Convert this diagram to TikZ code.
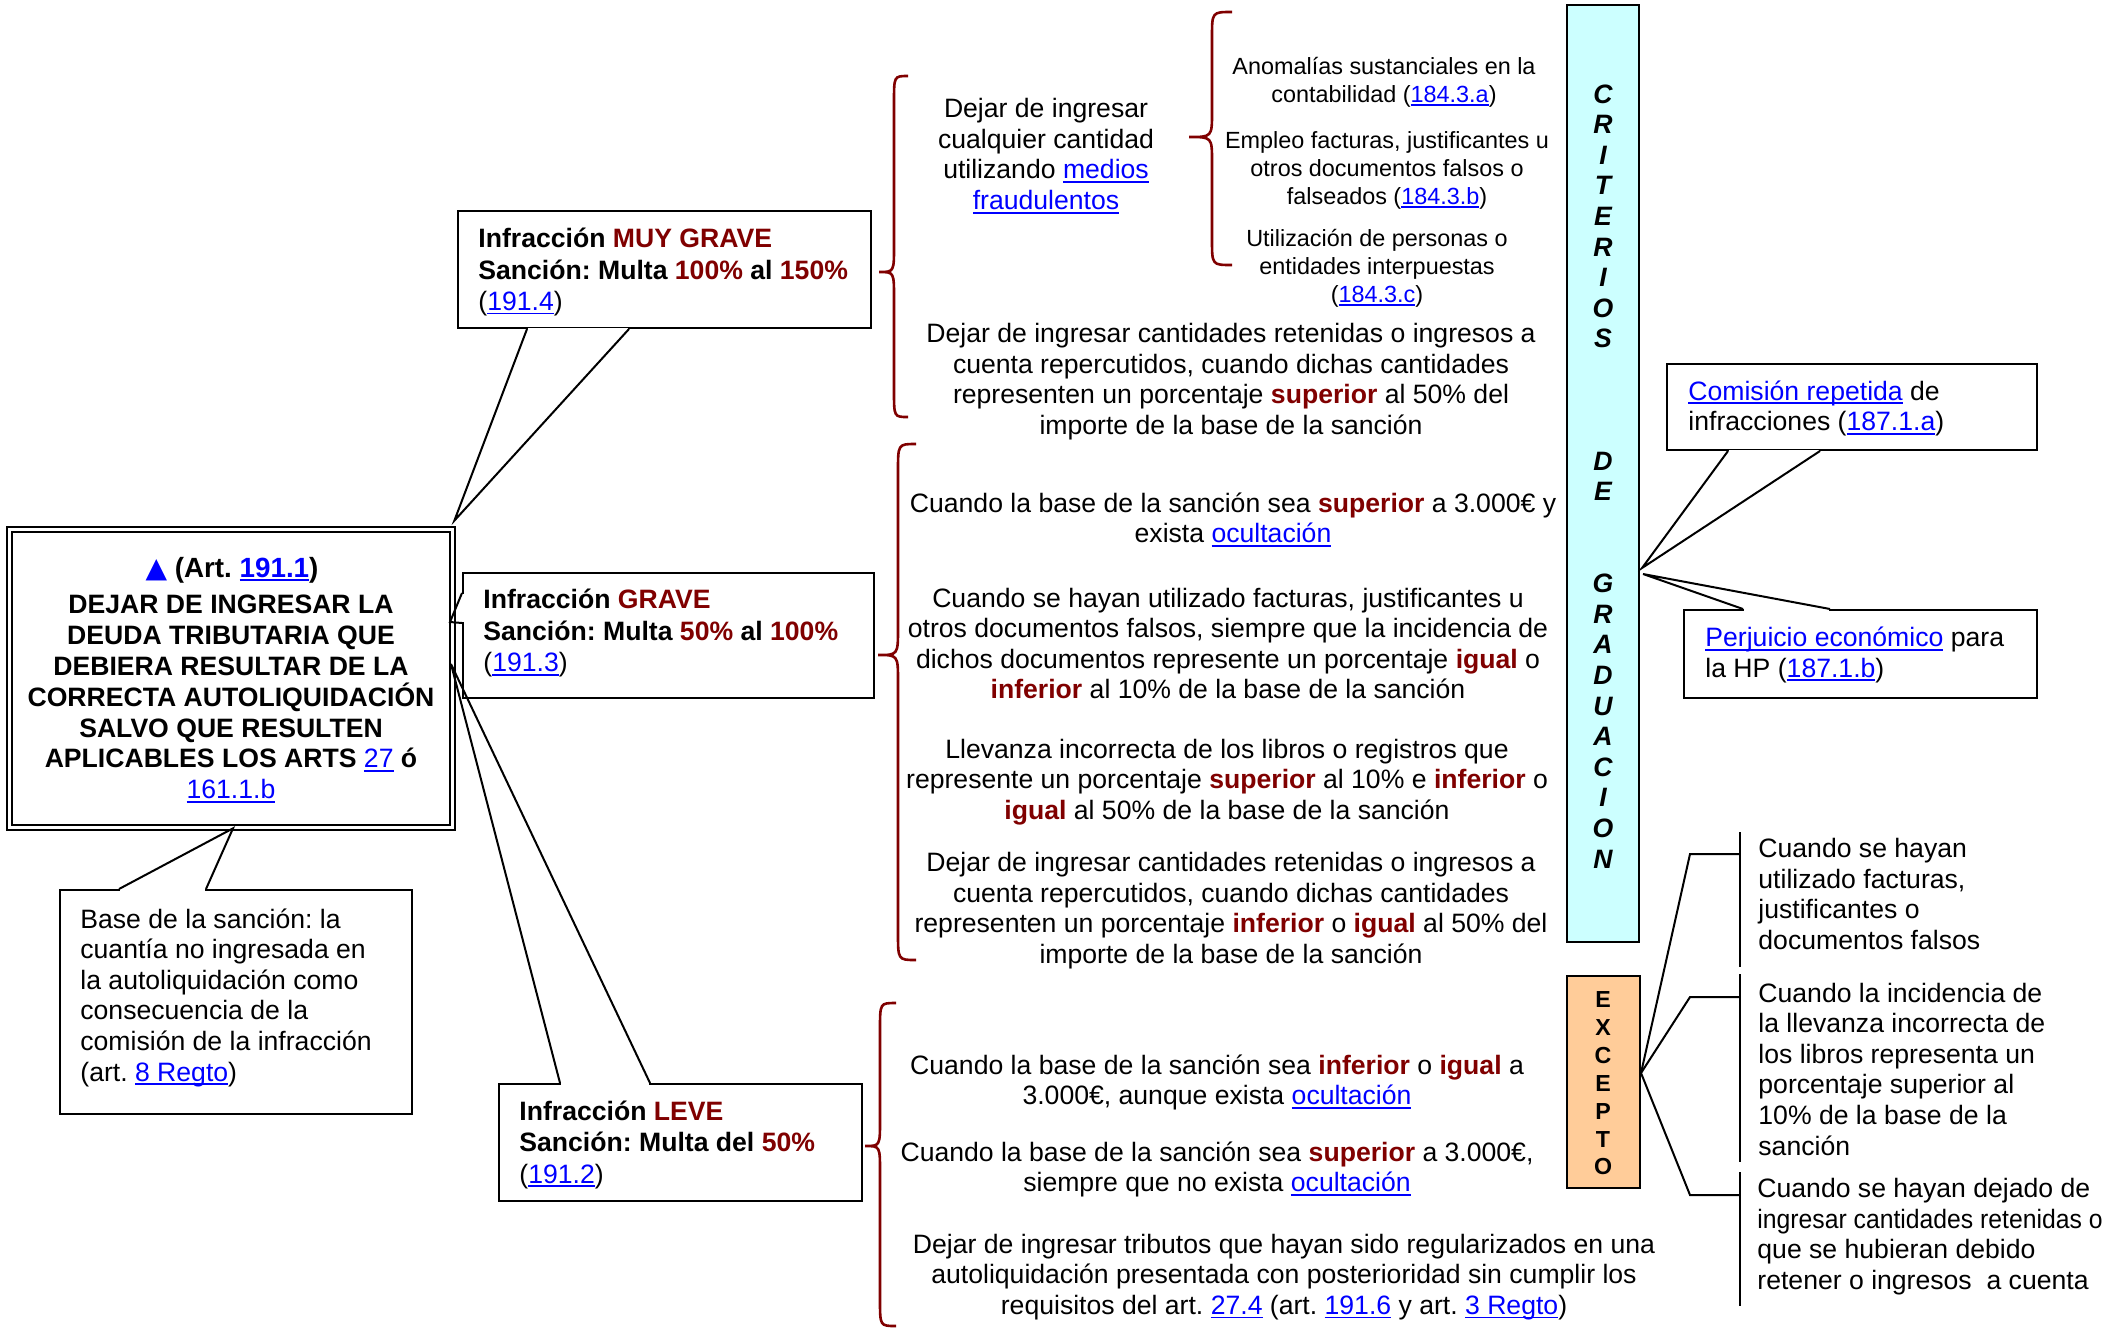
\documentclass[tikz,border=0pt]{standalone}
\usepackage{fontspec}
\setmainfont{Liberation Sans}
\newfontfamily\symfont{DejaVu Sans}
\usetikzlibrary{calc}
\definecolor{dred}{HTML}{800000}
\definecolor{lnkblue}{HTML}{0000FF}
\definecolor{critfill}{HTML}{CCFFFF}
\definecolor{excfill}{HTML}{FFCC99}
\frenchspacing
% blue underlined reference
\newcommand\lnk[1]{{\color{lnkblue}\setbox0\hbox{#1}\rlap{\rule[-0.15em]{\wd0}{0.07em}}\box0}}
\newcommand\hi[1]{{\bfseries\color{dred}#1}}
% curly brace opening to the left: end x, spine x, tip x, top y, tip y, bottom y, curl
\newcommand\brc[7]{%
  \draw[bracestyle] (#1,#4) .. controls (#2,#4) .. (#2,#4+#7) -- (#2,#5-#7)
    .. controls (#2,#5) .. (#3,#5) .. controls (#2,#5) .. (#2,#5+#7)
    -- (#2,#6-#7) .. controls (#2,#6) .. (#1,#6);}
\begin{document}
\begin{tikzpicture}[x=0.5pt,y=-0.5pt,
  every node/.style={inner sep=0pt},
  box/.style={draw, line width=1pt},
  tail/.style={line width=1pt, line join=miter},
  conn/.style={line width=1pt},
  bracestyle/.style={draw=dred, line width=1.3pt},
  regc/.style={font=\fontsize{13.3}{15.3}\selectfont, align=center, yshift=-1.5pt},
  regl/.style={font=\fontsize{13.3}{15.3}\selectfont, align=left, anchor=west, yshift=-1.5pt},
  bldl/.style={font=\fontsize{13.3}{15.75}\selectfont\bfseries, align=left, anchor=west, yshift=-1.5pt},
  smallc/.style={font=\fontsize{11.7}{14}\selectfont, align=center, yshift=-1.5pt},
  critletter/.style={font=\fontsize{13.3}{13.3}\selectfont\bfseries\itshape},
  excletter/.style={font=\fontsize{11.6}{11.6}\selectfont\bfseries}]
\useasboundingbox[fill=white] (0,0) rectangle (2107,1328);

% ---------- central statement ----------
\node[draw, line width=1.35pt, minimum width=224pt, minimum height=151.5pt] (main) at (231,678.5) {};
\draw[line width=1pt] ($(main.north west)+(6,6)$) rectangle ($(main.south east)+(-6,-6)$);
\node[font=\fontsize{13.9}{16}\selectfont\bfseries] (mainhead) at (232,570)
  {{\symfont\fontsize{14}{14}\selectfont\color{lnkblue}▲}\ (Art.\ \lnk{191.1})};
\node[font=\fontsize{13.3}{15.4}\selectfont\bfseries, align=center] (maintext) at (231,699)
  {DEJAR DE INGRESAR LA\\DEUDA TRIBUTARIA QUE\\DEBIERA RESULTAR DE LA\\CORRECTA AUTOLIQUIDACIÓN\\SALVO QUE RESULTEN\\APLICABLES LOS ARTS {\mdseries\lnk{27}} ó\\{\mdseries\lnk{161.1.b}}};

% ---------- base de la sancion ----------
\node[box, anchor=north west, minimum width=176pt, minimum height=112pt] (base) at (59,889) {};
\node[regl] (baset) at (80,994.5)
  {Base de la sanción: la\\cuantía no ingresada en\\la autoliquidación como\\consecuencia de la\\comisión de la infracción\\(art. \lnk{8 Regto})};
\coordinate (basetip) at ($(main.south)+(2,-3)$);
\fill[white] ($(base.north west)+(61,-1.5)$) rectangle ($(base.north west)+(146,1.5)$);
\draw[tail] ($(base.north west)+(60,0)$) -- (basetip) -- ($(base.north west)+(147,0)$);

% ---------- muy grave ----------
\node[box, anchor=north west, minimum width=206.5pt, minimum height=58.5pt] (muy) at (457,210) {};
\node[bldl] (muyt) at (478,269)
  {Infracción \hi{MUY GRAVE}\\Sanción: Multa \hi{100\%} al \hi{150\%}\\{\mdseries(\lnk{191.4})}};
\coordinate (muytip) at ($(main.north east)+(-2,-5)$);
\fill[white] ($(muy.south west)+(71,-1.5)$) rectangle ($(muy.south west)+(171,1.5)$);
\draw[tail] ($(muy.south west)+(70,0)$) -- (muytip) -- ($(muy.south west)+(172,0)$);

% ---------- grave ----------
\node[box, anchor=north west, minimum width=205.5pt, minimum height=62.5pt] (grave) at (462,572) {};
\node[bldl] (gravet) at (483,630)
  {Infracción \hi{GRAVE}\\Sanción: Multa \hi{50\%} al \hi{100\%}\\{\mdseries(\lnk{191.3})}};
\coordinate (gravetip) at (450,622);
\fill[white] ($(grave.north west)+(-1.5,22)$) rectangle ($(grave.north west)+(1.5,50)$);
\draw[tail] ($(grave.north west)+(0,21)$) -- (gravetip) -- ($(grave.north west)+(0,51)$);

% ---------- leve ----------
\node[box, anchor=north west, minimum width=181.5pt, minimum height=58.5pt] (leve) at (498,1083) {};
\node[bldl] (levet) at (519,1141.5)
  {Infracción \hi{LEVE}\\Sanción: Multa del \hi{50\%}\\{\mdseries(\lnk{191.2})}};
\coordinate (levetip) at (451,664);
\fill[white] ($(leve.north west)+(63,-1.5)$) rectangle ($(leve.north west)+(151,1.5)$);
\draw[tail] ($(leve.north west)+(62,0)$) -- (levetip) -- ($(leve.north west)+(152,0)$);

% ---------- braces ----------
\brc{908}{894}{879}{76}{272}{417}{26}
\brc{1232}{1212}{1189}{12}{137}{265}{25}
\brc{916}{898}{878}{444}{655}{960}{27}
\brc{896}{880}{865}{1003}{1146}{1326}{26}

% ---------- muy grave contents ----------
\node[regc] (a1) at (1046,153)
  {Dejar de ingresar\\cualquier cantidad\\utilizando \lnk{medios}\\\lnk{fraudulentos}};
\node[smallc] (b1) at (1384,79) {Anomalías sustanciales en la\\contabilidad (\lnk{184.3.a})};
\node[smallc] (b2) at (1387,167) {Empleo facturas, justificantes u\\otros documentos falsos o\\falseados (\lnk{184.3.b})};
\node[smallc] (b3) at (1377,265) {Utilización de personas o\\entidades interpuestas\\(\lnk{184.3.c})};
\node[regc] (c1) at (1231,378.5)
  {Dejar de ingresar cantidades retenidas o ingresos a\\cuenta repercutidos, cuando dichas cantidades\\representen un porcentaje \hi{superior} al 50\% del\\importe de la base de la sanción};

% ---------- grave contents ----------
\node[regc] (d1) at (1233,516.5)
  {Cuando la base de la sanción sea \hi{superior} a 3.000€ y\\exista \lnk{ocultación}};
\node[regc] (d2) at (1228,640.5)
  {Cuando se hayan utilizado facturas, justificantes u\\otros documentos falsos, siempre que la incidencia de\\dichos documentos represente un porcentaje \hi{igual} o\\\hi{inferior} al 10\% de la base de la sanción};
\node[regc] (d3) at (1227,779)
  {Llevanza incorrecta de los libros o registros que\\represente un porcentaje \hi{superior} al 10\% e \hi{inferior} o\\\hi{igual} al 50\% de la base de la sanción};
\node[regc] (d4) at (1231,907.5)
  {Dejar de ingresar cantidades retenidas o ingresos a\\cuenta repercutidos, cuando dichas cantidades\\representen un porcentaje \hi{inferior} o \hi{igual} al 50\% del\\importe de la base de la sanción};

% ---------- leve contents ----------
\node[regc] (e1) at (1217,1079.5)
  {Cuando la base de la sanción sea \hi{inferior} o \hi{igual} a\\3.000€, aunque exista \lnk{ocultación}};
\node[regc] (e2) at (1217,1166.5)
  {Cuando la base de la sanción sea \hi{superior} a 3.000€,\\siempre que no exista \lnk{ocultación}};
\node[regc] (e3) at (1284,1274)
  {Dejar de ingresar tributos que hayan sido regularizados en una\\autoliquidación presentada con posterioridad sin cumplir los\\requisitos del art. \lnk{27.4} (art. \lnk{191.6} y art. \lnk{3 Regto})};

% ---------- criterios de graduacion ----------
\node[draw, line width=1pt, fill=critfill, minimum width=36pt, minimum height=468.5pt] (crit) at (1603,473.5) {};
\foreach \l/\k in {C/0,R/1,I/2,T/3,E/4,R/5,I/6,O/7,S/8,D/12,E/13,G/16,R/17,A/18,D/19,U/20,A/21,C/22,I/23,O/24,N/25}
  \node[critletter] (crit-\k) at (1603,94+30.6*\k) {\l};

\node[box, anchor=north west, minimum width=185pt, minimum height=43pt] (com) at (1666,363) {};
\node[regl] (comt) at (1688,405.5) {\lnk{Comisión repetida} de\\infracciones (\lnk{187.1.a})};
\coordinate (comtip) at (1642,568);
\fill[white] ($(com.south west)+(63,-1.5)$) rectangle ($(com.south west)+(153,1.5)$);
\draw[tail] ($(com.south west)+(62,0)$) -- (comtip) -- ($(com.south west)+(154,0)$);

\node[box, anchor=north west, minimum width=176.5pt, minimum height=44pt] (per) at (1683,609) {};
\node[regl] (pert) at (1705,652) {\lnk{Perjuicio económico} para\\la HP (\lnk{187.1.b})};
\coordinate (pertip) at (1643,574);
\fill[white] ($(per.north west)+(61,-1.5)$) rectangle ($(per.north west)+(146,1.5)$);
\draw[tail] ($(per.north west)+(60,0)$) -- (pertip) -- ($(per.north west)+(147,0)$);

% ---------- excepto ----------
\node[draw, line width=1pt, fill=excfill, minimum width=36.5pt, minimum height=106pt] (exc) at (1603.5,1082) {};
\foreach \l [count=\i from 0] in {E,X,C,E,P,T,O}
  \node[excletter] (exc-\i) at (1603,1000+27.8*\i) {\l};
\coordinate (exctip) at ($(exc.east)+(0,-9)$);
\coordinate (elb1) at (1690,854);
\coordinate (elb2) at (1690,997);
\coordinate (elb3) at (1690,1195);
\coordinate (bar1) at (1740,854);
\coordinate (bar2) at (1740,997);
\coordinate (bar3) at (1740,1195);
\draw[conn] (exctip) -- (elb1) -- (bar1);
\draw[conn] (exctip) -- (elb2) -- (bar2);
\draw[conn] (exctip) -- (elb3) -- (bar3);
\draw[conn] (1740,832) -- (1740,967);
\draw[conn] (1740,974) -- (1740,1162);
\draw[conn] (1740,1172) -- (1740,1306);
\node[regl] (ex1) at (1758,891) {Cuando se hayan\\utilizado facturas,\\justificantes o\\documentos falsos};
\node[regl] (ex2) at (1758,1066) {Cuando la incidencia de\\la llevanza incorrecta de\\los libros representa un\\porcentaje superior al\\10\% de la base de la\\sanción};
\node[regl] (ex3) at (1757,1233.5) {Cuando se hayan dejado de\\\scalebox{0.93}[1]{ingresar cantidades retenidas o}\\que se hubieran debido\\retener o ingresos\ \ a cuenta};
\end{tikzpicture}
\end{document}
